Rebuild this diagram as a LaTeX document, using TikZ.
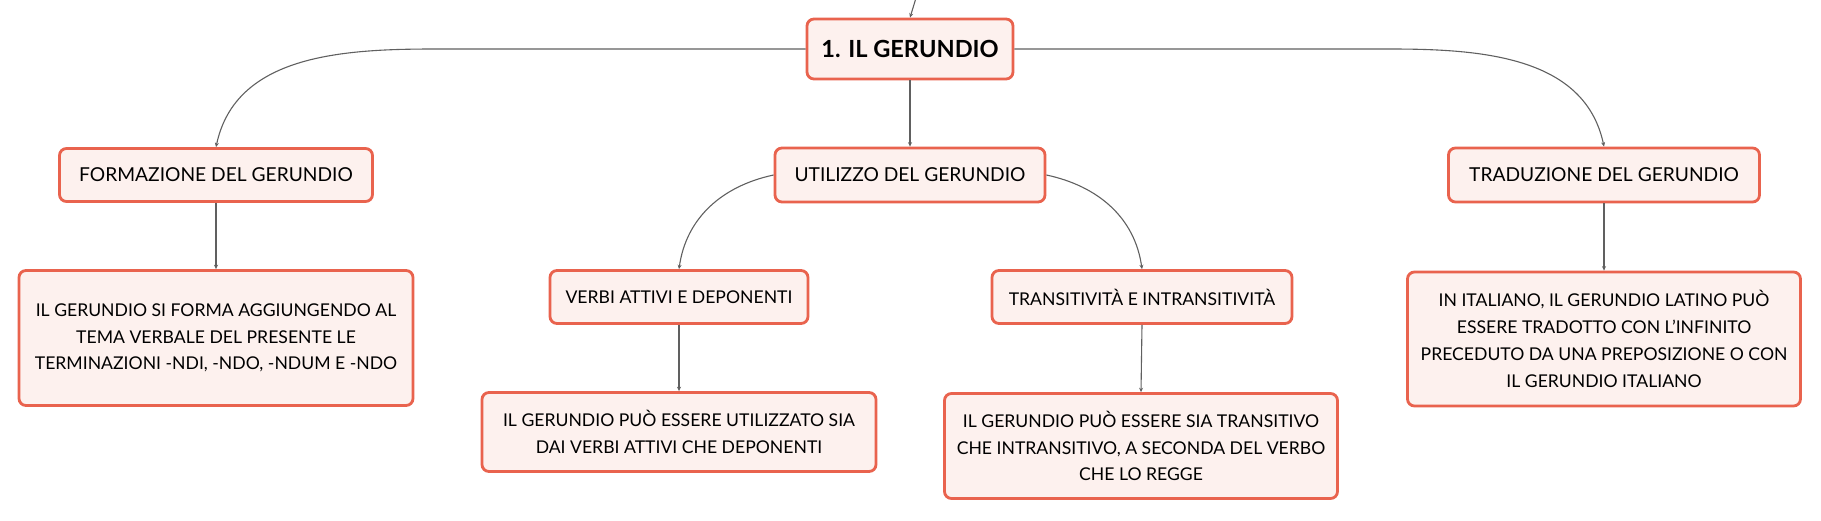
\documentclass[tikz,border=0pt]{standalone}
\usepackage{fontspec}
\setmainfont{Lato}
\usetikzlibrary{arrows.meta}

\definecolor{boxred}{HTML}{E9634E}
\definecolor{boxfill}{HTML}{FDF1EE}
\definecolor{linkgray}{HTML}{606060}

\begin{document}
\begin{tikzpicture}[x=0.5pt, y=-0.5pt,
        topic/.style={draw=boxred, fill=boxfill, line width=1.4pt, rounded corners=3.5pt,
            align=center, inner sep=0pt, font=\fontsize{9.6}{12}\selectfont},
        note/.style={topic, font=\fontsize{8.8}{13.4}\selectfont},
        link/.style={draw=linkgray, line width=0.55pt, -{Stealth[length=2.2pt,width=2pt]}}]
        \useasboundingbox (0,0) rectangle (1821,520);

        \node[topic, minimum width=103pt, minimum height=30pt,
            font=\fontsize{11.8}{14}\selectfont\bfseries] (root) at (910,49) {1. IL GERUNDIO};

        \node[topic, minimum width=156.5pt, minimum height=26.5pt] (form) at (216,175) {FORMAZIONE DEL GERUNDIO};
        \node[topic, minimum width=135pt, minimum height=27pt] (util) at (910,175) {UTILIZZO DEL GERUNDIO};
        \node[topic, minimum width=155.5pt, minimum height=27pt] (trad) at (1604,175) {TRADUZIONE DEL GERUNDIO};

        \node[note, minimum width=129pt, minimum height=26.5pt] (verbi) at (679,297) {VERBI ATTIVI E DEPONENTI};
        \node[note, minimum width=150pt, minimum height=26.5pt] (trans) at (1142,297) {TRANSITIVITÀ E INTRANSITIVITÀ};

        \node[note, minimum width=197pt, minimum height=67.5pt] (formtxt) at (216,338)
            {IL GERUNDIO SI FORMA AGGIUNGENDO AL\\TEMA VERBALE DEL PRESENTE LE\\TERMINAZIONI -NDI, -NDO, -NDUM E -NDO};
        \node[note, minimum width=197pt, minimum height=39.5pt] (verbitxt) at (679,432)
            {IL GERUNDIO PUÒ ESSERE UTILIZZATO SIA\\DAI VERBI ATTIVI CHE DEPONENTI};
        \node[note, minimum width=196.5pt, minimum height=52.5pt] (transtxt) at (1141,446)
            {IL GERUNDIO PUÒ ESSERE SIA TRANSITIVO\\CHE INTRANSITIVO, A SECONDA DEL VERBO\\CHE LO REGGE};
        \node[note, minimum width=196.5pt, minimum height=67pt] (tradtxt) at (1604,339)
            {IN ITALIANO, IL GERUNDIO LATINO PUÒ\\ESSERE TRADOTTO CON L’INFINITO\\PRECEDUTO DA UNA PREPOSIZIONE O CON\\IL GERUNDIO ITALIANO};

        \coordinate (up) at (916,-2);
        \coordinate (lbend) at (435,49);
        \coordinate (rbend) at (1390,49);

        \draw[link] (up) -- (root.north);
        \draw[link] (root.west) -- (lbend) to[out=180, in=78] (form.north);
        \draw[link] (root.east) -- (rbend) to[out=0, in=102] (trad.north);
        \draw[link] (root.south) -- (util.north);
        \draw[link] (util.west) to[out=192, in=82] (verbi.north);
        \draw[link] (util.east) to[out=-12, in=98] (trans.north);
        \draw[link] (form.south) -- (formtxt.north);
        \draw[link] (verbi.south) -- (verbitxt.north);
        \draw[link] (trans.south) -- (transtxt.north);
        \draw[link] (trad.south) -- (tradtxt.north);
    \end{tikzpicture}
\end{document}
